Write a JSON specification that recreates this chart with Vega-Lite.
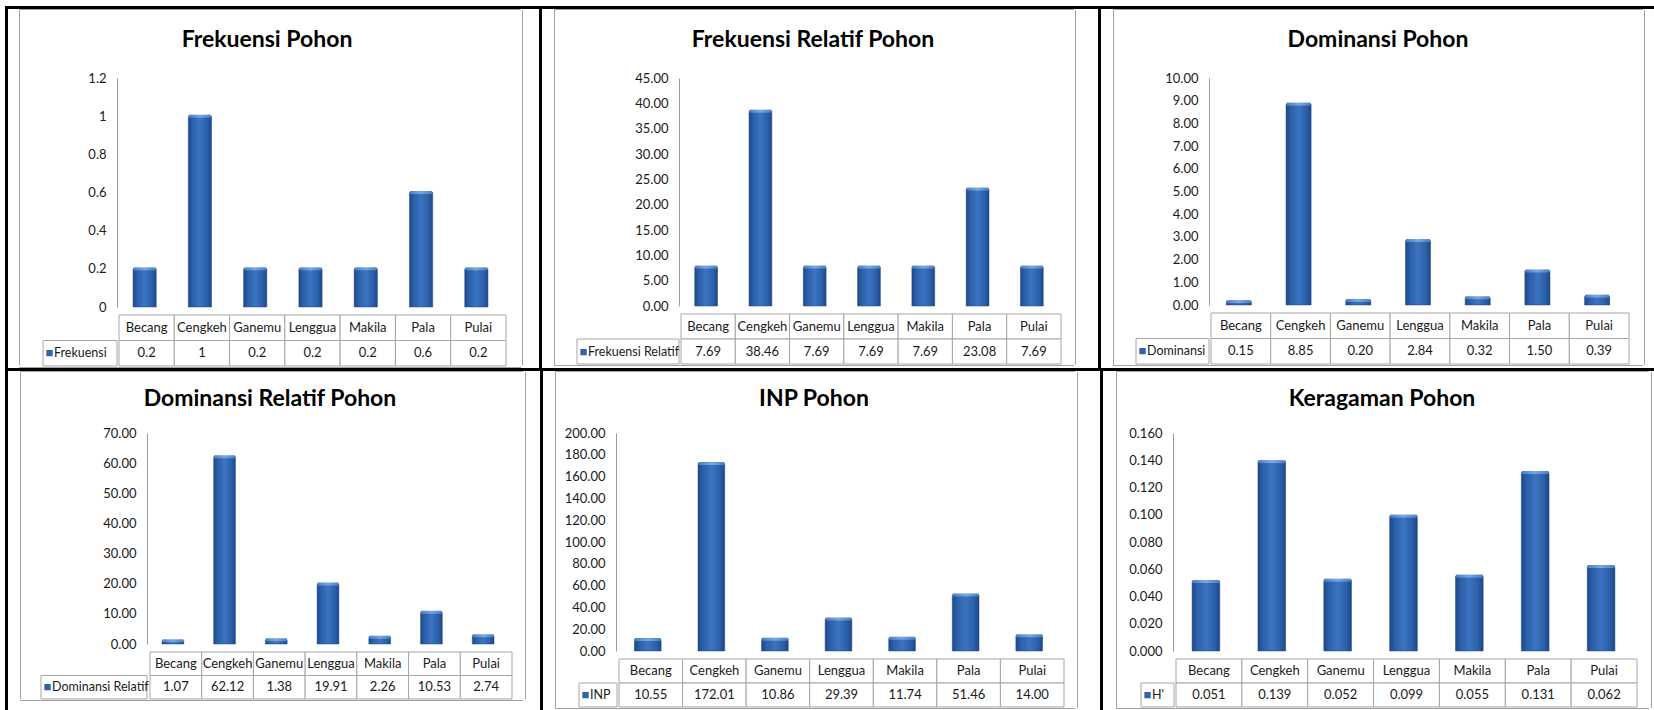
{
  "$schema": "https://vega.github.io/schema/vega-lite/v6.json",
  "padding": {"left": 5, "top": 6, "right": 0, "bottom": 0},
  "background": "white",
  "datasets": {
    "trees": [
      {"species": "Becang", "frekuensi": 0.2, "frekuensi_relatif": 7.69, "dominansi": 0.15, "dominansi_relatif": 1.07, "inp": 10.55, "h": 0.051},
      {"species": "Cengkeh", "frekuensi": 1, "frekuensi_relatif": 38.46, "dominansi": 8.85, "dominansi_relatif": 62.12, "inp": 172.01, "h": 0.139},
      {"species": "Ganemu", "frekuensi": 0.2, "frekuensi_relatif": 7.69, "dominansi": 0.20, "dominansi_relatif": 1.38, "inp": 10.86, "h": 0.052},
      {"species": "Lenggua", "frekuensi": 0.2, "frekuensi_relatif": 7.69, "dominansi": 2.84, "dominansi_relatif": 19.91, "inp": 29.39, "h": 0.099},
      {"species": "Makila", "frekuensi": 0.2, "frekuensi_relatif": 7.69, "dominansi": 0.32, "dominansi_relatif": 2.26, "inp": 11.74, "h": 0.055},
      {"species": "Pala", "frekuensi": 0.6, "frekuensi_relatif": 23.08, "dominansi": 1.50, "dominansi_relatif": 10.53, "inp": 51.46, "h": 0.131},
      {"species": "Pulai", "frekuensi": 0.2, "frekuensi_relatif": 7.69, "dominansi": 0.39, "dominansi_relatif": 2.74, "inp": 14.00, "h": 0.062}
    ]
  },
  "config": {
    "view": {"stroke": null},
    "font": "Lato",
    "title": {"font": "Lato", "fontSize": 23, "fontWeight": "bold", "color": "#000000", "anchor": "middle", "frame": "group"},
    "axis": {"labelFont": "Lato", "labelFontSize": 13, "labelColor": "#1a1a1a", "domainColor": "#9a9a9a", "domainWidth": 1, "ticks": false, "labelPadding": 11, "grid": false, "labelFlush": false, "labelOverlap": false, "labelBound": false},
    "text": {"font": "Lato", "fontSize": 13, "color": "#1a1a1a"},
    "bar": {"stroke": "#1d4784", "strokeWidth": 0.5, "color": {"gradient": "linear", "x1": 0, "y1": 0, "x2": 1, "y2": 0, "stops": [{"offset": 0, "color": "#1c4886"}, {"offset": 0.18, "color": "#2c5fa8"}, {"offset": 0.5, "color": "#3a74c2"}, {"offset": 0.82, "color": "#2c5fa8"}, {"offset": 1, "color": "#1c4886"}]}},
    "tick": {"thickness": 3, "yOffset": 2, "color": {"gradient": "linear", "x1": 0, "y1": 0, "x2": 1, "y2": 0, "stops": [{"offset": 0, "color": "#4f7fc2"}, {"offset": 0.5, "color": "#79a7e3"}, {"offset": 1, "color": "#4f7fc2"}]}, "opacity": 1}
  },
  "spacing": 0,
  "vconcat": [
    {"width": 1649, "height": 3, "data": {"values": []}, "mark": "rect", "view": {"fill": "#000000"}},
    {
      "spacing": 0,
      "hconcat": [
        {"width": 3, "height": 359, "data": {"values": []}, "mark": "rect", "view": {"fill": "#000000"}},
        {"width": 11, "height": 1, "data": {"values": []}, "mark": "rect"},
        {"spacing": 0, "vconcat": [
          {"width": 502, "height": 1, "data": {"values": []}, "mark": "rect", "view": {"fill": "#a3a3a3"}},
          {"spacing": 0, "hconcat": [
            {"width": 1, "height": 355, "data": {"values": []}, "mark": "rect", "view": {"fill": "#a3a3a3"}},
            {"width": 22, "height": 1, "data": {"values": []}, "mark": "rect"},
            {
              "spacing": 0,
              "vconcat": [
                {"width": 1, "height": 19, "data": {"values": []}, "mark": "rect"},
                {"spacing": 0, "hconcat": [
                  {"width": 34, "height": 1, "data": {"values": []}, "mark": "rect"},
                  {"width": 387, "height": 229,
                   "title": {"text": "Frekuensi Pohon", "offset": 20, "dx": -43.5},
                   "data": {"name": "trees"},
                   "encoding": {
                     "x": {"field": "species", "type": "nominal", "sort": null, "scale": {"type": "band", "paddingInner": 0, "paddingOuter": 0}, "axis": null},
                     "y": {"field": "frekuensi", "type": "quantitative", "scale": {"domain": [0, 1.2], "nice": false}, "axis": {"title": null, "values": [0, 0.2, 0.4, 0.6, 0.8, 1, 1.2], "format": ".1~f", "minExtent": 40, "maxExtent": 40}}
                   },
                   "layer": [
                     {"mark": {"type": "bar", "width": {"band": 0.42}}},
                     {"mark": {"type": "tick", "orient": "horizontal", "size": 22}}
                   ]}
                ]},
                {"spacing": 0, "hconcat": [
                  {"width": 74, "height": 51, "data": {"values": [{"series": "Frekuensi"}]},
                   "encoding": {"y": {"datum": "val", "type": "nominal", "scale": {"type": "band", "domain": ["cat", "val"], "paddingInner": 0, "paddingOuter": 0}, "axis": null}},
                   "layer": [
                     {"mark": {"type": "rect", "fill": "#ffffff", "stroke": "#a6a6a6", "strokeWidth": 1}},
                     {"mark": {"type": "text", "text": "■", "color": "#2e63ad", "fontSize": 13, "align": "left", "dx": -34.5}},
                     {"mark": {"type": "text", "align": "left", "dx": -26, "fontSize": 12.5}, "encoding": {"text": {"field": "series", "type": "nominal"}}}
                   ]},
                  {"width": 387, "height": 51, "data": {"name": "trees"},
                   "encoding": {"x": {"field": "species", "type": "nominal", "sort": null, "scale": {"type": "band", "paddingInner": 0, "paddingOuter": 0}, "axis": null}},
                   "layer": [
                     {"mark": {"type": "rect", "fill": "#ffffff", "stroke": "#a6a6a6", "strokeWidth": 1}, "encoding": {"y": {"datum": "cat", "type": "nominal", "scale": {"type": "band", "domain": ["cat", "val"], "paddingInner": 0, "paddingOuter": 0}, "axis": null}}},
                     {"mark": {"type": "rect", "fill": "#ffffff", "stroke": "#a6a6a6", "strokeWidth": 1}, "encoding": {"y": {"datum": "val", "type": "nominal"}}},
                     {"mark": {"type": "text"}, "encoding": {"y": {"datum": "cat", "type": "nominal"}, "text": {"field": "species", "type": "nominal"}}},
                     {"mark": {"type": "text"}, "encoding": {"y": {"datum": "val", "type": "nominal"}, "text": {"field": "frekuensi", "type": "quantitative", "format": ".1~f"}}}
                   ]}
                ]}
              ]
            },
            {"width": 15, "height": 1, "data": {"values": []}, "mark": "rect"},
            {"width": 1, "height": 355, "data": {"values": []}, "mark": "rect", "view": {"fill": "#a3a3a3"}}
          ]},
          {"width": 502, "height": 1, "data": {"values": []}, "mark": "rect", "view": {"fill": "#a3a3a3"}}
        ]},
        {"width": 16, "height": 1, "data": {"values": []}, "mark": "rect"},
        {"width": 3, "height": 359, "data": {"values": []}, "mark": "rect", "view": {"fill": "#000000"}},
        {"width": 12, "height": 1, "data": {"values": []}, "mark": "rect"},
        {"spacing": 0, "vconcat": [
          {"width": 520, "height": 1, "data": {"values": []}, "mark": "rect", "view": {"fill": "#a3a3a3"}},
          {"spacing": 0, "hconcat": [
            {"width": 1, "height": 355, "data": {"values": []}, "mark": "rect", "view": {"fill": "#a3a3a3"}},
            {"width": 21, "height": 1, "data": {"values": []}, "mark": "rect"},
            {
              "spacing": 0,
              "vconcat": [
                {"width": 1, "height": 19, "data": {"values": []}, "mark": "rect"},
                {"spacing": 0, "hconcat": [
                  {"width": 57, "height": 1, "data": {"values": []}, "mark": "rect"},
                  {"width": 380, "height": 228,
                   "title": {"text": "Frekuensi Relatif Pohon", "offset": 20, "dx": -56},
                   "data": {"name": "trees"},
                   "encoding": {
                     "x": {"field": "species", "type": "nominal", "sort": null, "scale": {"type": "band", "paddingInner": 0, "paddingOuter": 0}, "axis": null},
                     "y": {"field": "frekuensi_relatif", "type": "quantitative", "scale": {"domain": [0, 45], "nice": false}, "axis": {"title": null, "values": [0, 5, 10, 15, 20, 25, 30, 35, 40, 45], "format": ".2f", "minExtent": 45, "maxExtent": 45}}
                   },
                   "layer": [
                     {"mark": {"type": "bar", "width": {"band": 0.42}}},
                     {"mark": {"type": "tick", "orient": "horizontal", "size": 22}}
                   ]}
                ]},
                {"spacing": 0, "hconcat": [
                  {"width": 102, "height": 50, "data": {"values": [{"series": "Frekuensi Relatif"}]},
                   "encoding": {"y": {"datum": "val", "type": "nominal", "scale": {"type": "band", "domain": ["cat", "val"], "paddingInner": 0, "paddingOuter": 0}, "axis": null}},
                   "layer": [
                     {"mark": {"type": "rect", "fill": "#ffffff", "stroke": "#a6a6a6", "strokeWidth": 1}},
                     {"mark": {"type": "text", "text": "■", "color": "#2e63ad", "fontSize": 13, "align": "left", "dx": -48.5}},
                     {"mark": {"type": "text", "align": "left", "dx": -40, "fontSize": 12.5}, "encoding": {"text": {"field": "series", "type": "nominal"}}}
                   ]},
                  {"width": 380, "height": 50, "data": {"name": "trees"},
                   "encoding": {"x": {"field": "species", "type": "nominal", "sort": null, "scale": {"type": "band", "paddingInner": 0, "paddingOuter": 0}, "axis": null}},
                   "layer": [
                     {"mark": {"type": "rect", "fill": "#ffffff", "stroke": "#a6a6a6", "strokeWidth": 1}, "encoding": {"y": {"datum": "cat", "type": "nominal", "scale": {"type": "band", "domain": ["cat", "val"], "paddingInner": 0, "paddingOuter": 0}, "axis": null}}},
                     {"mark": {"type": "rect", "fill": "#ffffff", "stroke": "#a6a6a6", "strokeWidth": 1}, "encoding": {"y": {"datum": "val", "type": "nominal"}}},
                     {"mark": {"type": "text"}, "encoding": {"y": {"datum": "cat", "type": "nominal"}, "text": {"field": "species", "type": "nominal"}}},
                     {"mark": {"type": "text"}, "encoding": {"y": {"datum": "val", "type": "nominal"}, "text": {"field": "frekuensi_relatif", "type": "quantitative", "format": ".2f"}}}
                   ]}
                ]}
              ]
            },
            {"width": 13, "height": 1, "data": {"values": []}, "mark": "rect"},
            {"width": 1, "height": 355, "data": {"values": []}, "mark": "rect", "view": {"fill": "#a3a3a3"}}
          ]},
          {"width": 520, "height": 1, "data": {"values": []}, "mark": "rect", "view": {"fill": "#a3a3a3"}}
        ]},
        {"width": 22, "height": 1, "data": {"values": []}, "mark": "rect"},
        {"width": 3, "height": 359, "data": {"values": []}, "mark": "rect", "view": {"fill": "#000000"}},
        {"width": 12, "height": 1, "data": {"values": []}, "mark": "rect"},
        {"spacing": 0, "vconcat": [
          {"width": 530, "height": 1, "data": {"values": []}, "mark": "rect", "view": {"fill": "#a3a3a3"}},
          {"spacing": 0, "hconcat": [
            {"width": 1, "height": 355, "data": {"values": []}, "mark": "rect", "view": {"fill": "#a3a3a3"}},
            {"width": 21, "height": 1, "data": {"values": []}, "mark": "rect"},
            {
              "spacing": 0,
              "vconcat": [
                {"width": 1, "height": 19, "data": {"values": []}, "mark": "rect"},
                {"spacing": 0, "hconcat": [
                  {"width": 26, "height": 1, "data": {"values": []}, "mark": "rect"},
                  {"width": 418, "height": 227,
                   "title": {"text": "Dominansi Pohon", "offset": 20, "dx": -40},
                   "data": {"name": "trees"},
                   "encoding": {
                     "x": {"field": "species", "type": "nominal", "sort": null, "scale": {"type": "band", "paddingInner": 0, "paddingOuter": 0}, "axis": null},
                     "y": {"field": "dominansi", "type": "quantitative", "scale": {"domain": [0, 10], "nice": false}, "axis": {"title": null, "values": [0, 1, 2, 3, 4, 5, 6, 7, 8, 9, 10], "format": ".2f", "minExtent": 47, "maxExtent": 47}}
                   },
                   "layer": [
                     {"mark": {"type": "bar", "width": {"band": 0.42}}},
                     {"mark": {"type": "tick", "orient": "horizontal", "size": 24}}
                   ]}
                ]},
                {"spacing": 0, "hconcat": [
                  {"width": 73, "height": 51, "data": {"values": [{"series": "Dominansi"}]},
                   "encoding": {"y": {"datum": "val", "type": "nominal", "scale": {"type": "band", "domain": ["cat", "val"], "paddingInner": 0, "paddingOuter": 0}, "axis": null}},
                   "layer": [
                     {"mark": {"type": "rect", "fill": "#ffffff", "stroke": "#a6a6a6", "strokeWidth": 1}},
                     {"mark": {"type": "text", "text": "■", "color": "#2e63ad", "fontSize": 13, "align": "left", "dx": -34}},
                     {"mark": {"type": "text", "align": "left", "dx": -25.5, "fontSize": 12.5}, "encoding": {"text": {"field": "series", "type": "nominal"}}}
                   ]},
                  {"width": 418, "height": 51, "data": {"name": "trees"},
                   "encoding": {"x": {"field": "species", "type": "nominal", "sort": null, "scale": {"type": "band", "paddingInner": 0, "paddingOuter": 0}, "axis": null}},
                   "layer": [
                     {"mark": {"type": "rect", "fill": "#ffffff", "stroke": "#a6a6a6", "strokeWidth": 1}, "encoding": {"y": {"datum": "cat", "type": "nominal", "scale": {"type": "band", "domain": ["cat", "val"], "paddingInner": 0, "paddingOuter": 0}, "axis": null}}},
                     {"mark": {"type": "rect", "fill": "#ffffff", "stroke": "#a6a6a6", "strokeWidth": 1}, "encoding": {"y": {"datum": "val", "type": "nominal"}}},
                     {"mark": {"type": "text"}, "encoding": {"y": {"datum": "cat", "type": "nominal"}, "text": {"field": "species", "type": "nominal"}}},
                     {"mark": {"type": "text"}, "encoding": {"y": {"datum": "val", "type": "nominal"}, "text": {"field": "dominansi", "type": "quantitative", "format": ".2f"}}}
                   ]}
                ]}
              ]
            },
            {"width": 14, "height": 1, "data": {"values": []}, "mark": "rect"},
            {"width": 1, "height": 355, "data": {"values": []}, "mark": "rect", "view": {"fill": "#a3a3a3"}}
          ]},
          {"width": 530, "height": 1, "data": {"values": []}, "mark": "rect", "view": {"fill": "#a3a3a3"}}
        ]}
      ]
    },
    {"width": 1649, "height": 3, "data": {"values": []}, "mark": "rect", "view": {"fill": "#000000"}},
    {
      "spacing": 0,
      "hconcat": [
        {"width": 3, "height": 339, "data": {"values": []}, "mark": "rect", "view": {"fill": "#000000"}},
        {"width": 12, "height": 1, "data": {"values": []}, "mark": "rect"},
        {"spacing": 0, "vconcat": [
          {"width": 503, "height": 1, "data": {"values": []}, "mark": "rect", "view": {"fill": "#a3a3a3"}},
          {"spacing": 0, "hconcat": [
            {"width": 1, "height": 327, "data": {"values": []}, "mark": "rect", "view": {"fill": "#a3a3a3"}},
            {"width": 19, "height": 1, "data": {"values": []}, "mark": "rect"},
            {
              "spacing": 0,
              "vconcat": [
                {"width": 1, "height": 16, "data": {"values": []}, "mark": "rect"},
                {"spacing": 0, "hconcat": [
                  {"width": 61, "height": 1, "data": {"values": []}, "mark": "rect"},
                  {"width": 362, "height": 211,
                   "title": {"text": "Dominansi Relatif Pohon", "offset": 16, "dx": -58},
                   "data": {"name": "trees"},
                   "encoding": {
                     "x": {"field": "species", "type": "nominal", "sort": null, "scale": {"type": "band", "paddingInner": 0, "paddingOuter": 0}, "axis": null},
                     "y": {"field": "dominansi_relatif", "type": "quantitative", "scale": {"domain": [0, 70], "nice": false}, "axis": {"title": null, "values": [0, 10, 20, 30, 40, 50, 60, 70], "format": ".2f", "minExtent": 45, "maxExtent": 45}}
                   },
                   "layer": [
                     {"mark": {"type": "bar", "width": {"band": 0.42}}},
                     {"mark": {"type": "tick", "orient": "horizontal", "size": 21}}
                   ]}
                ]},
                {"spacing": 0, "hconcat": [
                  {"width": 106, "height": 47, "data": {"values": [{"series": "Dominansi Relatif"}]},
                   "encoding": {"y": {"datum": "val", "type": "nominal", "scale": {"type": "band", "domain": ["cat", "val"], "paddingInner": 0, "paddingOuter": 0}, "axis": null}},
                   "layer": [
                     {"mark": {"type": "rect", "fill": "#ffffff", "stroke": "#a6a6a6", "strokeWidth": 1}},
                     {"mark": {"type": "text", "text": "■", "color": "#2e63ad", "fontSize": 13, "align": "left", "dx": -50.5}},
                     {"mark": {"type": "text", "align": "left", "dx": -42, "fontSize": 12.5}, "encoding": {"text": {"field": "series", "type": "nominal"}}}
                   ]},
                  {"width": 362, "height": 47, "data": {"name": "trees"},
                   "encoding": {"x": {"field": "species", "type": "nominal", "sort": null, "scale": {"type": "band", "paddingInner": 0, "paddingOuter": 0}, "axis": null}},
                   "layer": [
                     {"mark": {"type": "rect", "fill": "#ffffff", "stroke": "#a6a6a6", "strokeWidth": 1}, "encoding": {"y": {"datum": "cat", "type": "nominal", "scale": {"type": "band", "domain": ["cat", "val"], "paddingInner": 0, "paddingOuter": 0}, "axis": null}}},
                     {"mark": {"type": "rect", "fill": "#ffffff", "stroke": "#a6a6a6", "strokeWidth": 1}, "encoding": {"y": {"datum": "val", "type": "nominal"}}},
                     {"mark": {"type": "text"}, "encoding": {"y": {"datum": "cat", "type": "nominal"}, "text": {"field": "species", "type": "nominal"}}},
                     {"mark": {"type": "text"}, "encoding": {"y": {"datum": "val", "type": "nominal"}, "text": {"field": "dominansi_relatif", "type": "quantitative", "format": ".2f"}}}
                   ]}
                ]}
              ]
            },
            {"width": 12, "height": 1, "data": {"values": []}, "mark": "rect"},
            {"width": 1, "height": 327, "data": {"values": []}, "mark": "rect", "view": {"fill": "#a3a3a3"}}
          ]},
          {"width": 503, "height": 1, "data": {"values": []}, "mark": "rect", "view": {"fill": "#a3a3a3"}}
        ]},
        {"width": 14, "height": 1, "data": {"values": []}, "mark": "rect"},
        {"width": 3, "height": 339, "data": {"values": []}, "mark": "rect", "view": {"fill": "#000000"}},
        {"width": 12, "height": 1, "data": {"values": []}, "mark": "rect"},
        {"spacing": 0, "vconcat": [
          {"width": 520, "height": 1, "data": {"values": []}, "mark": "rect", "view": {"fill": "#a3a3a3"}},
          {"spacing": 0, "hconcat": [
            {"width": 1, "height": 336, "data": {"values": []}, "mark": "rect", "view": {"fill": "#a3a3a3"}},
            {"width": 6, "height": 1, "data": {"values": []}, "mark": "rect"},
            {
              "spacing": 0,
              "vconcat": [
                {"width": 1, "height": 16, "data": {"values": []}, "mark": "rect"},
                {"spacing": 0, "hconcat": [
                  {"width": 1, "height": 1, "data": {"values": []}, "mark": "rect"},
                  {"width": 445, "height": 218,
                   "title": {"text": "INP Pohon", "offset": 16, "dx": -24.5},
                   "data": {"name": "trees"},
                   "encoding": {
                     "x": {"field": "species", "type": "nominal", "sort": null, "scale": {"type": "band", "paddingInner": 0, "paddingOuter": 0}, "axis": null},
                     "y": {"field": "inp", "type": "quantitative", "scale": {"domain": [0, 200], "nice": false}, "axis": {"title": null, "values": [0, 20, 40, 60, 80, 100, 120, 140, 160, 180, 200], "format": ".2f", "minExtent": 53, "maxExtent": 53}}
                   },
                   "layer": [
                     {"mark": {"type": "bar", "width": {"band": 0.42}}},
                     {"mark": {"type": "tick", "orient": "horizontal", "size": 26}}
                   ]}
                ]},
                {"spacing": 0, "hconcat": [
                  {"width": 16, "height": 1, "data": {"values": []}, "mark": "rect"},
                  {"width": 38, "height": 48, "data": {"values": [{"series": "INP"}]},
                   "encoding": {"y": {"datum": "val", "type": "nominal", "scale": {"type": "band", "domain": ["cat", "val"], "paddingInner": 0, "paddingOuter": 0}, "axis": null}},
                   "layer": [
                     {"mark": {"type": "rect", "fill": "#ffffff", "stroke": "#a6a6a6", "strokeWidth": 1}},
                     {"mark": {"type": "text", "text": "■", "color": "#2e63ad", "fontSize": 13, "align": "left", "dx": -16.5}},
                     {"mark": {"type": "text", "align": "left", "dx": -8, "fontSize": 12.5}, "encoding": {"text": {"field": "series", "type": "nominal"}}}
                   ]},
                  {"width": 445, "height": 48, "data": {"name": "trees"},
                   "encoding": {"x": {"field": "species", "type": "nominal", "sort": null, "scale": {"type": "band", "paddingInner": 0, "paddingOuter": 0}, "axis": null}},
                   "layer": [
                     {"mark": {"type": "rect", "fill": "#ffffff", "stroke": "#a6a6a6", "strokeWidth": 1}, "encoding": {"y": {"datum": "cat", "type": "nominal", "scale": {"type": "band", "domain": ["cat", "val"], "paddingInner": 0, "paddingOuter": 0}, "axis": null}}},
                     {"mark": {"type": "rect", "fill": "#ffffff", "stroke": "#a6a6a6", "strokeWidth": 1}, "encoding": {"y": {"datum": "val", "type": "nominal"}}},
                     {"mark": {"type": "text"}, "encoding": {"y": {"datum": "cat", "type": "nominal"}, "text": {"field": "species", "type": "nominal"}}},
                     {"mark": {"type": "text"}, "encoding": {"y": {"datum": "val", "type": "nominal"}, "text": {"field": "inp", "type": "quantitative", "format": ".2f"}}}
                   ]}
                ]}
              ]
            },
            {"width": 12, "height": 1, "data": {"values": []}, "mark": "rect"},
            {"width": 1, "height": 336, "data": {"values": []}, "mark": "rect", "view": {"fill": "#a3a3a3"}}
          ]},
          {"width": 520, "height": 1, "data": {"values": []}, "mark": "rect", "view": {"fill": "#a3a3a3"}}
        ]},
        {"width": 22, "height": 1, "data": {"values": []}, "mark": "rect"},
        {"width": 3, "height": 339, "data": {"values": []}, "mark": "rect", "view": {"fill": "#000000"}},
        {"width": 13, "height": 1, "data": {"values": []}, "mark": "rect"},
        {"spacing": 0, "vconcat": [
          {"width": 533, "height": 1, "data": {"values": []}, "mark": "rect", "view": {"fill": "#a3a3a3"}},
          {"spacing": 0, "hconcat": [
            {"width": 1, "height": 336, "data": {"values": []}, "mark": "rect", "view": {"fill": "#a3a3a3"}},
            {"width": 5, "height": 1, "data": {"values": []}, "mark": "rect"},
            {
              "spacing": 0,
              "vconcat": [
                {"width": 1, "height": 16, "data": {"values": []}, "mark": "rect"},
                {"spacing": 0, "hconcat": [
                  {"width": 1, "height": 1, "data": {"values": []}, "mark": "rect"},
                  {"width": 461, "height": 218,
                   "title": {"text": "Keragaman Pohon", "offset": 16, "dx": -21.5},
                   "data": {"name": "trees"},
                   "encoding": {
                     "x": {"field": "species", "type": "nominal", "sort": null, "scale": {"type": "band", "paddingInner": 0, "paddingOuter": 0}, "axis": null},
                     "y": {"field": "h", "type": "quantitative", "scale": {"domain": [0, 0.16], "nice": false}, "axis": {"title": null, "values": [0, 0.02, 0.04, 0.06, 0.08, 0.1, 0.12, 0.14, 0.16], "format": ".3f", "minExtent": 50, "maxExtent": 50}}
                   },
                   "layer": [
                     {"mark": {"type": "bar", "width": {"band": 0.42}}},
                     {"mark": {"type": "tick", "orient": "horizontal", "size": 27}}
                   ]}
                ]},
                {"spacing": 0, "hconcat": [
                  {"width": 18, "height": 1, "data": {"values": []}, "mark": "rect"},
                  {"width": 33, "height": 48, "data": {"values": [{"series": "H'"}]},
                   "encoding": {"y": {"datum": "val", "type": "nominal", "scale": {"type": "band", "domain": ["cat", "val"], "paddingInner": 0, "paddingOuter": 0}, "axis": null}},
                   "layer": [
                     {"mark": {"type": "rect", "fill": "#ffffff", "stroke": "#a6a6a6", "strokeWidth": 1}},
                     {"mark": {"type": "text", "text": "■", "color": "#2e63ad", "fontSize": 13, "align": "left", "dx": -14}},
                     {"mark": {"type": "text", "align": "left", "dx": -5.5, "fontSize": 12.5}, "encoding": {"text": {"field": "series", "type": "nominal"}}}
                   ]},
                  {"width": 461, "height": 48, "data": {"name": "trees"},
                   "encoding": {"x": {"field": "species", "type": "nominal", "sort": null, "scale": {"type": "band", "paddingInner": 0, "paddingOuter": 0}, "axis": null}},
                   "layer": [
                     {"mark": {"type": "rect", "fill": "#ffffff", "stroke": "#a6a6a6", "strokeWidth": 1}, "encoding": {"y": {"datum": "cat", "type": "nominal", "scale": {"type": "band", "domain": ["cat", "val"], "paddingInner": 0, "paddingOuter": 0}, "axis": null}}},
                     {"mark": {"type": "rect", "fill": "#ffffff", "stroke": "#a6a6a6", "strokeWidth": 1}, "encoding": {"y": {"datum": "val", "type": "nominal"}}},
                     {"mark": {"type": "text"}, "encoding": {"y": {"datum": "cat", "type": "nominal"}, "text": {"field": "species", "type": "nominal"}}},
                     {"mark": {"type": "text"}, "encoding": {"y": {"datum": "val", "type": "nominal"}, "text": {"field": "h", "type": "quantitative", "format": ".3f"}}}
                   ]}
                ]}
              ]
            },
            {"width": 13, "height": 1, "data": {"values": []}, "mark": "rect"},
            {"width": 1, "height": 336, "data": {"values": []}, "mark": "rect", "view": {"fill": "#a3a3a3"}}
          ]},
          {"width": 533, "height": 1, "data": {"values": []}, "mark": "rect", "view": {"fill": "#a3a3a3"}}
        ]}
      ]
    }
  ]
}
